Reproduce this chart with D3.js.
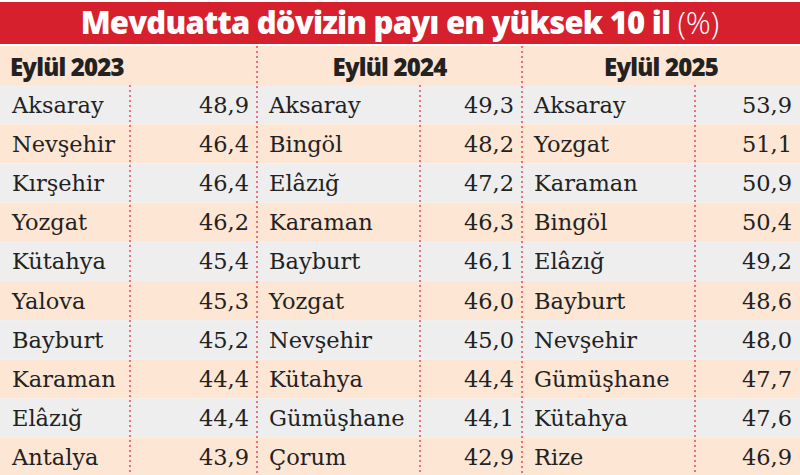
<!DOCTYPE html>
<html><head><meta charset="utf-8">
<script src="https://cdn.jsdelivr.net/npm/d3@7"></script>
<style>body{margin:0;background:#fff}</style></head>
<body><svg id="c" width="800" height="475"></svg>
<script>
var periods = ["Eylül 2023", "Eylül 2024", "Eylül 2025"];
var names2023 = ["Aksaray","Nevşehir","Kırşehir","Yozgat","Kütahya","Yalova","Bayburt","Karaman","Elâzığ","Antalya"];
var values2023 = [48.9,46.4,46.4,46.2,45.4,45.3,45.2,44.4,44.4,43.9];
var names2024 = ["Aksaray","Bingöl","Elâzığ","Karaman","Bayburt","Yozgat","Nevşehir","Kütahya","Gümüşhane","Çorum"];
var values2024 = [49.3,48.2,47.2,46.3,46.1,46.0,45.0,44.4,44.1,42.9];
var names2025 = ["Aksaray","Yozgat","Karaman","Bingöl","Elâzığ","Bayburt","Nevşehir","Gümüşhane","Kütahya","Rize"];
var values2025 = [53.9,51.1,50.9,50.4,49.2,48.6,48.0,47.7,47.6,46.9];

var groups = [
  {names: names2023, values: values2023, x0: 0, inner: 130, x1: 257, anchor: "start"},
  {names: names2024, values: values2024, x0: 257, inner: 420, x1: 522, anchor: "middle"},
  {names: names2025, values: values2025, x0: 522, inner: 695, x1: 800, anchor: "middle"}
];
var svg = d3.select("#c");
var y = d3.scaleBand().domain(d3.range(10)).range([85, 477]);
var fmt = function(v){ return d3.format(".1f")(v).replace(".", ","); };

// title
svg.append("rect").attr("x",0).attr("y",2).attr("width",800).attr("height",42).attr("fill","#d7202e");
var t = svg.append("text").attr("x",400).attr("y",34).attr("text-anchor","middle")
  .attr("fill","#fff").attr("font-family","Open Sans").attr("font-size",31);
t.append("tspan").attr("font-weight",800).attr("letter-spacing",-0.8).text("Mevduatta dövizin payı en yüksek 10 il ");
t.append("tspan").attr("font-weight",300).text("(%)");

// header row
svg.append("rect").attr("x",0).attr("y",46).attr("width",800).attr("height",39).attr("fill","#fde6d4");
groups.forEach(function(g,i){
  svg.append("text").attr("x", g.anchor=="start" ? 10 : (g.x0+g.x1)/2).attr("y",76)
    .attr("text-anchor", g.anchor).attr("font-family","Open Sans").attr("font-weight",800)
    .attr("font-size",24).attr("letter-spacing",-0.8).attr("fill","#222").text(periods[i]);
});

// stripes
svg.selectAll("rect.row").data(d3.range(10)).join("rect").attr("class","row")
  .attr("x",0).attr("width",800).attr("y",function(d){return y(d);}).attr("height",y.bandwidth())
  .attr("fill",function(d){return d%2 ? "#fde6d4" : "#eeeeee";});

groups.forEach(function(g){
  svg.selectAll(null).data(g.names).join("text")
    .attr("x", g.x0 + 12).attr("y", function(d,i){return y(i)+y.bandwidth()/2+8;})
    .attr("font-family","DejaVu Serif").attr("font-size",22.5).attr("fill","#222").text(function(d){return d;});
  svg.selectAll(null).data(g.values).join("text")
    .attr("x", g.x1 - 8).attr("y", function(d,i){return y(i)+y.bandwidth()/2+8;})
    .attr("text-anchor","end").attr("font-family","DejaVu Serif").attr("font-size",22.5).attr("fill","#222").text(fmt);
  svg.append("line").attr("x1",g.inner).attr("x2",g.inner).attr("y1",85).attr("y2",475)
    .attr("stroke","#e8203a").attr("stroke-width",1.2).attr("stroke-dasharray","2,3");
});
[257,522].forEach(function(x){
  svg.append("line").attr("x1",x).attr("x2",x).attr("y1",46).attr("y2",475)
    .attr("stroke","#e8203a").attr("stroke-width",1.2).attr("stroke-dasharray","2,3");
});
</script></body></html>
